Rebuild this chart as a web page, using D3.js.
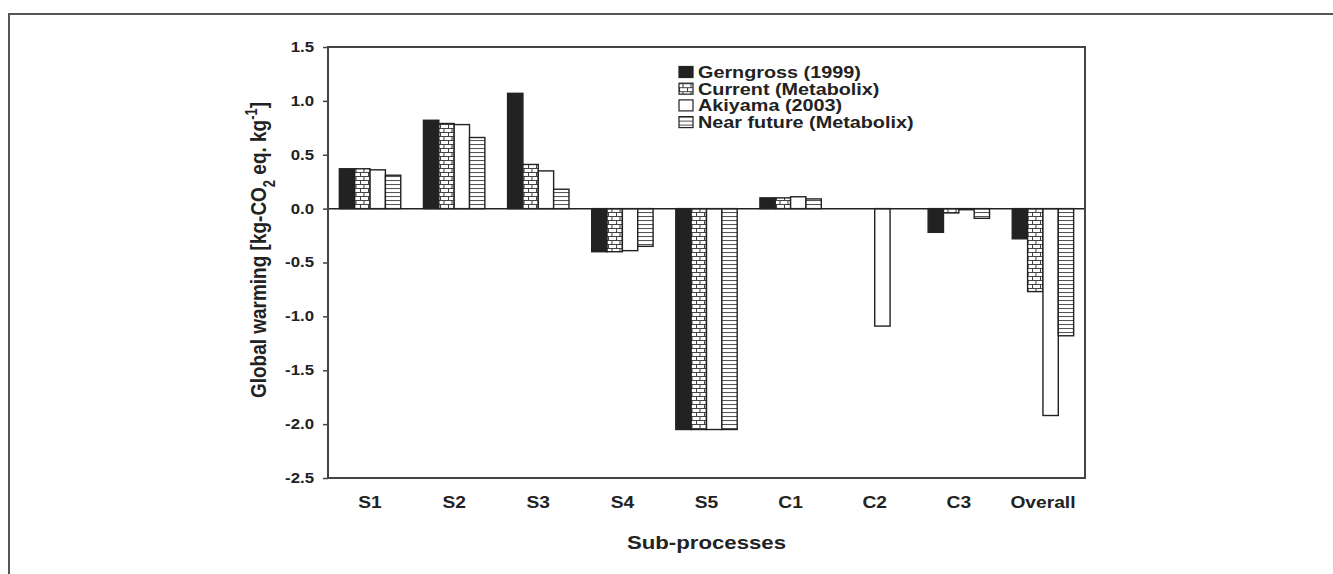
<!DOCTYPE html>
<html>
<head>
<meta charset="utf-8">
<script src="https://d3js.org/d3.v7.min.js"></script>
<style>
  body { margin: 0; background: #fff; }
  svg text { font-family: "Liberation Sans", Arial, sans-serif; font-weight: bold; fill: #222; }
</style>
</head>
<body>
<div id="chart"></div>
<script>
// categories and series
var categories = ["S1", "S2", "S3", "S4", "S5", "C1", "C2", "C3", "Overall"];
var seriesNames = ["Gerngross (1999)", "Current (Metabolix)", "Akiyama (2003)", "Near future (Metabolix)"];
var gerngross  = [0.37, 0.82, 1.07, -0.40, -2.05, 0.10, 0.00, -0.22, -0.28];
var current    = [0.37, 0.79, 0.41, -0.40, -2.05, 0.10, 0.00, -0.04, -0.77];
var akiyama    = [0.36, 0.78, 0.35, -0.39, -2.05, 0.11, -1.09, -0.01, -1.92];
var nearFuture = [0.31, 0.66, 0.18, -0.35, -2.05, 0.09, 0.00, -0.09, -1.18];
var yTicks = [1.5, 1.0, 0.5, 0.0, -0.5, -1.0, -1.5, -2.0, -2.5];

var allSeries = [gerngross, current, akiyama, nearFuture];
var fills = ["#222", "url(#brick)", "#fff", "url(#hlines)"];

var W = 1333, H = 574;
var plot = {left: 328, right: 1085, top: 47, bottom: 478};
var sx = 1.2; // the original figure's text is a bit wide

var svg = d3.select("#chart").append("svg").attr("width", W).attr("height", H);

// patterns
var defs = svg.append("defs");
var brick = defs.append("pattern").attr("id", "brick").attr("patternUnits", "userSpaceOnUse")
  .attr("width", 8).attr("height", 8);
brick.append("rect").attr("width", 8).attr("height", 8).attr("fill", "#fff");
brick.append("path").attr("d", "M0,0.5H8M0,4.5H8M4,0.5V4.5M0.5,4.5V8.5")
  .attr("stroke", "#444").attr("stroke-width", 1.1).attr("fill", "none");
var hl = defs.append("pattern").attr("id", "hlines").attr("patternUnits", "userSpaceOnUse")
  .attr("width", 8).attr("height", 4);
hl.append("rect").attr("width", 8).attr("height", 4).attr("fill", "#fff");
hl.append("path").attr("d", "M0,0.5H8").attr("stroke", "#555").attr("stroke-width", 1.1);

// outer frame (top + left only visible)
svg.append("path").attr("d", "M9," + H + "V14H" + W)
  .attr("fill", "none").attr("stroke", "#555").attr("stroke-width", 2);

var x = d3.scaleBand().domain(categories).range([plot.left, plot.right]).paddingInner(0.27).paddingOuter(0.135);
var xs = d3.scaleBand().domain(d3.range(4)).range([0, x.bandwidth()]);
var y = d3.scaleLinear().domain([-2.5, 1.5]).range([plot.bottom, plot.top]);

// bars
allSeries.forEach(function(vals, si) {
  svg.append("g").selectAll("rect").data(vals).enter().append("rect")
    .attr("x", function(d, i) { return x(categories[i]) + xs(si); })
    .attr("y", function(d) { return y(Math.max(0, d)); })
    .attr("width", xs.bandwidth())
    .attr("height", function(d) { return Math.abs(y(d) - y(0)); })
    .attr("fill", fills[si])
    .attr("stroke", "#222").attr("stroke-width", 1.4);
});

// zero line
svg.append("line").attr("x1", plot.left).attr("x2", plot.right)
  .attr("y1", y(0)).attr("y2", y(0)).attr("stroke", "#222").attr("stroke-width", 1.5);

// plot frame
svg.append("rect").attr("x", plot.left).attr("y", plot.top)
  .attr("width", plot.right - plot.left).attr("height", plot.bottom - plot.top)
  .attr("fill", "none").attr("stroke", "#444").attr("stroke-width", 2);

// y axis
var yAxis = svg.append("g").attr("transform", "translate(" + plot.left + ",0)")
  .call(d3.axisLeft(y).tickValues(yTicks).tickFormat(function(d) { return d.toFixed(1); })
    .tickSize(5).tickPadding(9));
yAxis.select(".domain").remove();
yAxis.selectAll("line").attr("stroke", "#444").attr("stroke-width", 1.5);
yAxis.selectAll("text").style("font-size", "14px").style("font-family", "Liberation Sans, Arial, sans-serif")
  .style("font-weight", "bold").attr("fill", "#222")
  .attr("x", -14 / sx).attr("transform", "scale(" + sx + ",1)");

// x labels
var xAxis = svg.append("g").attr("transform", "translate(0," + plot.bottom + ")")
  .call(d3.axisBottom(x).tickSize(0).tickPadding(19));
xAxis.select(".domain").remove();
xAxis.selectAll("text").style("font-size", "16px").style("font-family", "Liberation Sans, Arial, sans-serif")
  .style("font-weight", "bold").attr("fill", "#222").attr("transform", "scale(" + sx + ",1)");

// axis titles
svg.append("text").attr("transform", "translate(" + ((plot.left + plot.right) / 2) + ",549) scale(" + sx + ",1)")
  .attr("text-anchor", "middle").style("font-size", "18.5px").text("Sub-processes");

var yt = svg.append("text").attr("transform", "translate(266,250) rotate(-90) scale(1," + sx + ")")
  .attr("text-anchor", "middle").style("font-size", "19px");
yt.append("tspan").text("Global warming [kg-CO");
yt.append("tspan").attr("baseline-shift", "sub").style("font-size", "13px").text("2");
yt.append("tspan").text(" eq. kg");
yt.append("tspan").attr("baseline-shift", "super").style("font-size", "13px").text("-1");
yt.append("tspan").text("]");

// legend
var leg = svg.append("g").attr("transform", "translate(679,66.5)");
seriesNames.forEach(function(name, i) {
  var g = leg.append("g").attr("transform", "translate(0," + (i * 16.7) + ")");
  g.append("rect").attr("width", 14).attr("height", 11)
    .attr("fill", fills[i]).attr("stroke", "#222").attr("stroke-width", 1.2);
  g.append("text").attr("transform", "translate(19,11.5) scale(" + sx + ",1)")
    .style("font-size", "16.5px").text(name);
});
</script>
</body>
</html>
